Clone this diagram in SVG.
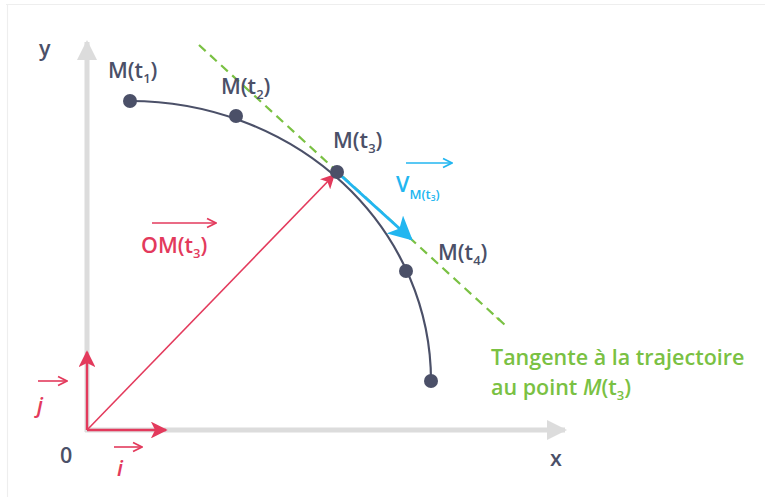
<svg xmlns="http://www.w3.org/2000/svg" width="765" height="497" viewBox="0 0 765 497">
<defs>
<style>
.lbl{font-family:"Open Sans","Liberation Sans",sans-serif;font-size:21.5px;font-weight:600;fill:#4b5068}
.red{fill:#e33a5c}
.grn{font-family:"Open Sans","Liberation Sans",sans-serif;font-size:21.5px;font-weight:600;fill:#7ac143}
.blu{fill:#22b6f0}
.sub{font-size:13px}
.pt{fill:#4b5068}
</style>
<marker id="axh" viewBox="0 0 10 10" refX="9" refY="5" markerWidth="4" markerHeight="4" orient="auto" markerUnits="strokeWidth"><path d="M0,0 L10,5 L0,10 z" fill="#dcdcdc"/></marker>
<marker id="redh" viewBox="0 0 10 10" refX="9" refY="5" markerWidth="7" markerHeight="7" orient="auto" markerUnits="strokeWidth"><path d="M0,0 L10,5 L0,10 L2.5,5 z" fill="#e33a5c"/></marker>
<marker id="redh2" viewBox="0 0 10 10" refX="9" refY="5" markerWidth="9" markerHeight="9" orient="auto" markerUnits="strokeWidth"><path d="M0,0 L10,5 L0,10 L2.5,5 z" fill="#e33a5c"/></marker>
<marker id="bluh" viewBox="0 0 10 10" refX="9" refY="5" markerWidth="8" markerHeight="8" orient="auto" markerUnits="strokeWidth"><path d="M0,0 L10,5 L0,10 L2.5,5 z" fill="#22b6f0"/></marker>
<marker id="sm" viewBox="0 0 10 10" refX="9" refY="5" markerWidth="7" markerHeight="7" orient="auto" markerUnits="strokeWidth"><path d="M1,1 L9,5 L1,9" fill="none" stroke="context-stroke" stroke-width="1.6"/></marker>
</defs>
<rect width="765" height="497" fill="#fff"/>
<path d="M6,4.5 H765 M7.5,5 V497" stroke="#eeeeee" stroke-width="1.2" fill="none"/>
<g id="axes">
<line x1="87" y1="432" x2="87" y2="42" stroke="#dcdcdc" stroke-width="5" marker-end="url(#axh)"/>
<line x1="85" y1="430" x2="565" y2="430" stroke="#dcdcdc" stroke-width="5" marker-end="url(#axh)"/>
<text class="lbl" x="39" y="56">y</text>
<text class="lbl" x="550" y="466">x</text>
<text class="lbl" x="60" y="463">0</text>
</g>
<g id="connectors">
<path d="M130,101 A301,280 0 0 1 431,381" fill="none" stroke="#4b5068" stroke-width="2.2"/>
<line x1="199" y1="45" x2="505" y2="325" stroke="#7ac143" stroke-width="2.2" stroke-dasharray="9,6"/>
<line x1="87" y1="430" x2="334" y2="175" stroke="#e33a5c" stroke-width="1.6" marker-end="url(#redh2)"/>
<line x1="87" y1="430" x2="87" y2="352" stroke="#e33a5c" stroke-width="2.4" marker-end="url(#redh)"/>
<line x1="87" y1="430" x2="166" y2="430" stroke="#e33a5c" stroke-width="2.4" marker-end="url(#redh)"/>
<line x1="337" y1="172" x2="411" y2="239" stroke="#22b6f0" stroke-width="3" marker-end="url(#bluh)"/>
</g>
<g id="M1"><circle class="pt" cx="130" cy="101" r="7"/><text class="lbl" x="108" y="78">M(t<tspan class="sub" dy="5">1</tspan><tspan dy="-5">)</tspan></text></g>
<g id="M2"><circle class="pt" cx="236" cy="116" r="7"/><text class="lbl" x="221" y="94">M(t<tspan class="sub" dy="5">2</tspan><tspan dy="-5">)</tspan></text></g>
<g id="M3"><circle class="pt" cx="337" cy="172" r="7"/><text class="lbl" x="333" y="148">M(t<tspan class="sub" dy="5">3</tspan><tspan dy="-5">)</tspan></text></g>
<g id="M4"><circle class="pt" cx="406" cy="271" r="7"/><text class="lbl" x="438" y="260">M(t<tspan class="sub" dy="5">4</tspan><tspan dy="-5">)</tspan></text></g>
<g id="M5"><circle class="pt" cx="431" cy="381" r="7"/></g>
<g id="OM">
<line x1="152" y1="223" x2="216" y2="223" stroke="#e33a5c" stroke-width="1.6" marker-end="url(#sm)"/>
<text class="lbl red" x="141" y="253">OM(t<tspan class="sub" dy="5">3</tspan><tspan dy="-5">)</tspan></text>
</g>
<g id="j">
<line x1="38" y1="381" x2="67" y2="381" stroke="#e33a5c" stroke-width="1.6" marker-end="url(#sm)"/>
<text class="lbl red" x="37" y="413" font-style="italic">j</text>
</g>
<g id="i">
<line x1="114" y1="447" x2="142" y2="447" stroke="#e33a5c" stroke-width="1.6" marker-end="url(#sm)"/>
<text class="lbl red" x="117" y="476" font-style="italic">i</text>
</g>
<g id="V">
<line x1="406" y1="163" x2="452" y2="163" stroke="#22b6f0" stroke-width="1.6" marker-end="url(#sm)"/>
<text class="lbl blu" x="396" y="192" font-size="25" font-weight="400">V<tspan class="sub" font-size="11.5" dy="7">M(t<tspan font-size="8.5" dy="2">3</tspan><tspan dy="-2">)</tspan></tspan></text>
</g>
<g id="tangent">
<text class="grn" x="495" y="334" font-size="10" fill="#9ab38a">`</text>
<text class="grn" x="491" y="365">Tangente à la trajectoire</text>
<text class="grn" x="491" y="395">au point <tspan font-style="italic">M</tspan>(t<tspan class="sub" dy="5">3</tspan><tspan dy="-5">)</tspan></text>
</g>
</svg>
